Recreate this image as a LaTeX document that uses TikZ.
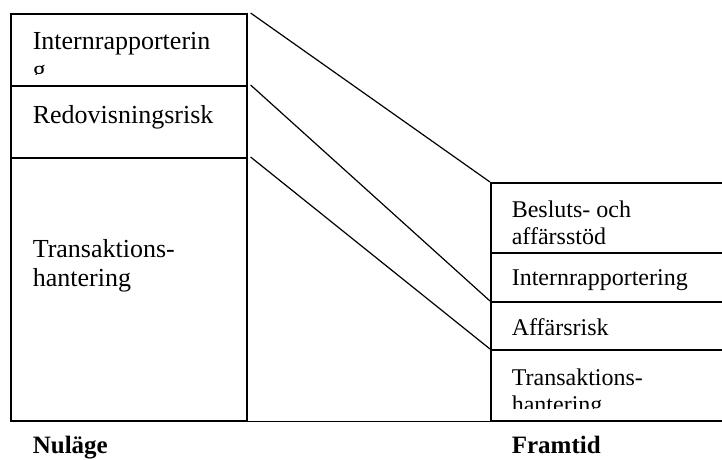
\documentclass[tikz,border=0pt]{standalone}
\usepackage{fontspec}
\setmainfont{Liberation Serif}
\usetikzlibrary{positioning}

\begin{document}
\begin{tikzpicture}[
    x=1pt, y=-1pt,
    line width=1.6pt,
    box/.style={
            rectangle,
            draw,
            anchor=north west,
            inner sep=0pt
        },
    cur_text/.style={
            anchor=base west,
            inner sep=0pt,
            align=left,
            font=\fontsize{26}{29}\selectfont
        },
    fut_text/.style={
            anchor=base west,
            inner sep=0pt,
            align=left,
            font=\fontsize{24}{27}\selectfont
        },
    title_text/.style={
            anchor=base west,
            inner sep=0pt,
            font=\fontsize{25}{28}\selectfont\bfseries
        },
    link/.style={line width=1.2pt},
    ]
    \useasboundingbox (0,0) rectangle (722,459);

    % --- Nulage ---
    \node (cur1) [box, minimum width=236pt, minimum height=72pt] at (10,13) {};
    \node (cur2) [box, minimum width=236pt, minimum height=72pt] at (10,85) {};
    \node (cur3) [box, minimum width=236pt, minimum height=263pt] at (10,157) {};

    % multi-line nodes sit on their last baseline
    \begin{scope}
        \clip (cur1.north west) rectangle ([yshift=12pt]cur1.south east);
        \node (cur1_txt) [cur_text] at (32,78) {Internrapporterin\\g};
    \end{scope}
    \node (cur2_txt) [cur_text] at (32,123) {Redovisningsrisk};
    \node (cur3_txt) [cur_text] at (32,286) {Transaktions-\\hantering};

    % --- Framtid ---
    \node (fut1) [box, minimum width=232pt, minimum height=70pt] at (490,182) {};
    \node (fut2) [box, minimum width=232pt, minimum height=49pt] at (490,252) {};
    \node (fut3) [box, minimum width=232pt, minimum height=48pt] at (490,301) {};
    \node (fut4) [box, minimum width=232pt, minimum height=71pt] at (490,349) {};

    \node (fut1_txt) [fut_text] at (511,244) {Besluts- och\\affärsstöd};
    \node (fut2_txt) [fut_text] at (511,285) {Internrapportering};
    \node (fut3_txt) [fut_text] at (511,335) {Affärsrisk};
    \begin{scope}
        \clip (fut4.north west) rectangle ([yshift=13pt]fut4.south east);
        \node (fut4_txt) [fut_text] at (511,412) {Transaktions-\\hantering};
    \end{scope}

    % --- Baseline ---
    \draw (cur3.south east) -- (fut4.south west);

    % --- Links ---
    \draw[link] ([xshift=3pt]cur1.north east) -- (fut1.north west);
    \draw[link] ([xshift=3pt]cur2.north east) -- (fut3.north west);
    \draw[link] ([xshift=3pt]cur3.north east) -- (fut4.north west);

    % --- Labels ---
    \node (now_lbl) [title_text] at (32,453) {Nuläge};
    \node (future_lbl) [title_text] at (511,453) {Framtid};

\end{tikzpicture}
\end{document}
